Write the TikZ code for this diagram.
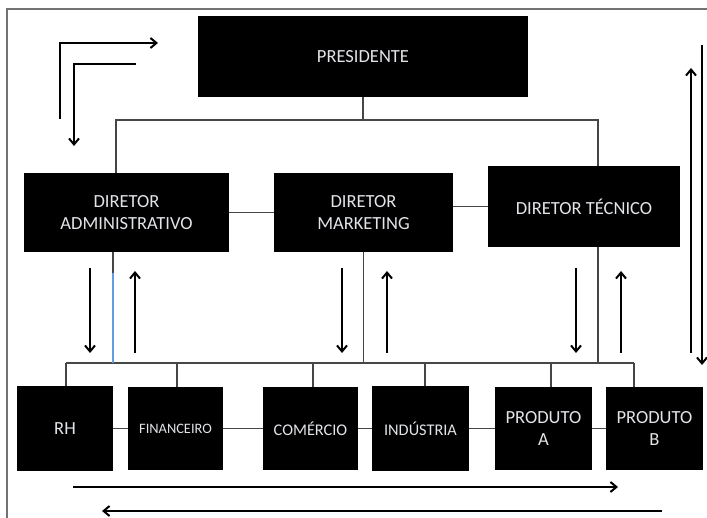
\documentclass[tikz,border=0pt]{standalone}
\usepackage{fontspec}
\setmainfont{Carlito}
\usetikzlibrary{arrows.meta}
\definecolor{boxtext}{RGB}{226,228,232}
\definecolor{linegray}{RGB}{70,70,70}
\definecolor{lightblue}{RGB}{100,155,225}
\tikzset{
  box/.style={fill=black, text=boxtext, inner sep=0pt, align=center,
    font=\fontsize{18.5}{22}\selectfont},
  link/.style={draw=linegray, line width=1.1pt},
  arr/.style={line width=2pt, -{Straight Barb[length=6pt,width=10pt]}},
}
\begin{document}
\begin{tikzpicture}[x=1pt,y=-1pt]
\useasboundingbox (0,0) rectangle (707,518);
\draw[line width=1.5pt, black!55] (7,518) -- (7,9) -- (707,9);

\node[box, minimum width=330pt, minimum height=81pt] (pres) at (363,56.5) {PRESIDENTE};
\node[box, minimum width=205pt, minimum height=79pt] (dadm) at (126.5,212.5) {DIRETOR\\ADMINISTRATIVO};
\node[box, minimum width=179pt, minimum height=79pt] (dmkt) at (363.5,212.5) {DIRETOR\\MARKETING};
\node[box, minimum width=192pt, minimum height=81pt] (dtec) at (584,206.5) {DIRETOR TÉCNICO};

\node[box, minimum width=96pt, minimum height=84pt] (rh) at (65,428.5) {RH};
\node[box, minimum width=95pt, minimum height=83pt, font=\fontsize{14.4}{17}\selectfont] (fin) at (175.5,428.5) {FINANCEIRO};
\node[box, minimum width=95pt, minimum height=83pt, font=\fontsize{16.3}{20}\selectfont] (com) at (310.5,428.5) {COMÉRCIO};
\node[box, minimum width=97pt, minimum height=84pt, font=\fontsize{16.3}{20}\selectfont] (ind) at (420.5,428.5) {INDÚSTRIA};
\node[box, minimum width=97pt, minimum height=83pt] (proda) at (543.5,428.5) {PRODUTO\\A};
\node[box, minimum width=97pt, minimum height=83pt] (prodb) at (654.5,428.5) {PRODUTO\\B};

% ligacoes
\coordinate (topbus) at (363,120);
\draw[link] (pres) -- (topbus);
\draw[link] ([xshift=-10.5pt]dadm.north) |- (topbus) -| ([xshift=14pt]dtec.north);
\draw[link] (dadm) -- (dmkt);
\draw[link] (dmkt.east |- dtec.west) -- (dtec.west);

\coordinate (busL) at (66,363);
\coordinate (busR) at (634,363);
\draw[link] (busL) -- (busR);
\draw[link] ([xshift=-13.5pt]dadm.south) -- ++(0,21) coordinate (ab);
\draw[link, draw=lightblue] (ab) -- (ab |- busL);
\draw[link] (dmkt.south) -- (dmkt.south |- busL);
\draw[link] ([xshift=14pt]dtec.south) -- ([xshift=14pt]dtec.south |- busL);
\foreach \n/\x in {rh/66,fin/177,com/313,ind/425,proda/551,prodb/634}{
  \coordinate (d\n) at (\x,363);
  \draw[link] (d\n) -- (d\n |- \n.north);
}
\draw[link] (rh) -- (fin);
\draw[link] (fin) -- (com);
\draw[link] (com) -- (ind);
\draw[link] (ind) -- (proda);
\draw[link] (proda) -- (prodb);

% setas
\foreach \x in {90,342,576} \draw[arr] (\x,268) -- (\x,353);
\foreach \x in {135,387,621} \draw[arr] (\x,353) -- (\x,271);
\draw[arr] (60,119) |- (158,43);
\draw[arr] (136,64) -| (74,146);
\draw[arr] (691,353) -- (691,68);
\draw[arr] (702,45) -- (702,365);
\draw[arr] (73,487) -- (618,487);
\draw[arr] (662,511) -- (102,511);
\end{tikzpicture}
\end{document}
